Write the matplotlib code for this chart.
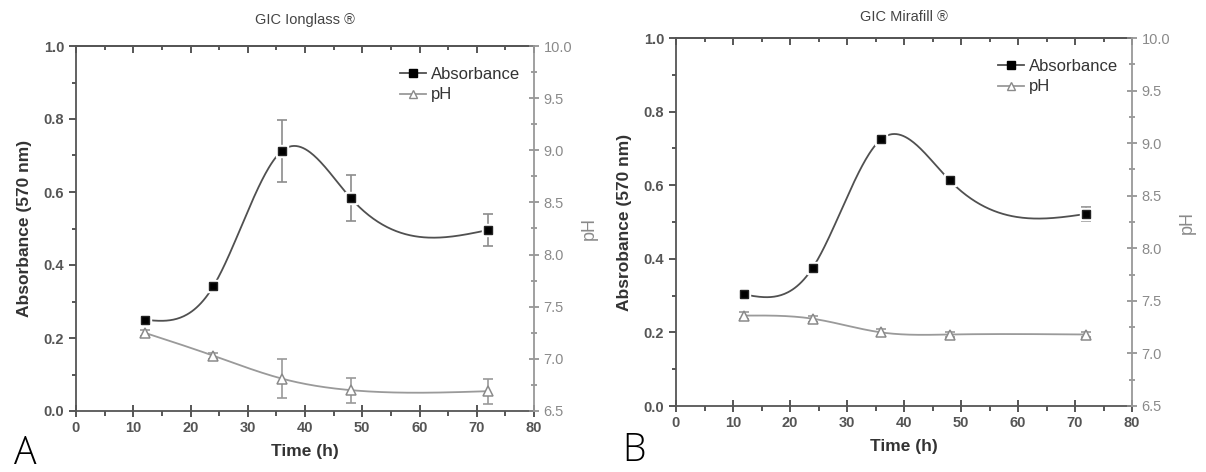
import numpy as np
import matplotlib
matplotlib.use("Agg")
import matplotlib.pyplot as plt
from matplotlib.lines import Line2D

plt.rcParams['font.family'] = ['Liberation Sans', 'DejaVu Sans']

time_h = [12, 24, 36, 48, 72]

abs_A = [0.250, 0.342, 0.713, 0.583, 0.496]
abs_A_err = [0.008, 0.008, 0.085, 0.063, 0.043]
ph_A = [7.25, 7.03, 6.81, 6.70, 6.69]
ph_A_err = [0.03, 0.03, 0.19, 0.12, 0.12]

abs_B = [0.303, 0.376, 0.725, 0.613, 0.522]
abs_B_err = [0.008, 0.012, 0.010, 0.008, 0.020]
ph_B = [7.36, 7.33, 7.20, 7.18, 7.18]
ph_B_err = [0.03, 0.03, 0.03, 0.02, 0.02]

titles = ["GIC Ionglass \u00ae", "GIC Mirafill \u00ae"]
ylabels = ["Absorbance (570 nm)", "Absrobance (570 nm)"]
panel_letters = ["A", "B"]


def natural_spline(x, y, n=300):
    x = np.asarray(x, float); y = np.asarray(y, float)
    k = len(x); h = np.diff(x)
    A = np.zeros((k, k)); r = np.zeros(k)
    A[0, 0] = 1; A[-1, -1] = 1
    for i in range(1, k - 1):
        A[i, i - 1] = h[i - 1]; A[i, i] = 2 * (h[i - 1] + h[i]); A[i, i + 1] = h[i]
        r[i] = 3 * ((y[i + 1] - y[i]) / h[i] - (y[i] - y[i - 1]) / h[i - 1])
    c = np.linalg.solve(A, r)
    b = np.zeros(k - 1); d = np.zeros(k - 1)
    for i in range(k - 1):
        b[i] = (y[i + 1] - y[i]) / h[i] - h[i] * (2 * c[i] + c[i + 1]) / 3
        d[i] = (c[i + 1] - c[i]) / (3 * h[i])
    xs = np.linspace(x[0], x[-1], n)
    idx = np.clip(np.searchsorted(x, xs) - 1, 0, k - 2)
    dx = xs - x[idx]
    ys = y[idx] + b[idx] * dx + c[idx] * dx ** 2 + d[idx] * dx ** 3
    return xs, ys


fig = plt.figure(figsize=(12.06, 4.72), dpi=100)
W, H = 1206, 472
boxes = [(76, 46, 534, 411), (676, 38, 1132, 406)]
title_pads = [16, 12]
dark = '#3a3a3a'
grey = '#8c8c8c'

data = [(abs_A, abs_A_err, ph_A, ph_A_err), (abs_B, abs_B_err, ph_B, ph_B_err)]

for p, (l, t, r, b) in enumerate(boxes):
    ax = fig.add_axes([l / W, 1 - b / H, (r - l) / W, (b - t) / H])
    ax2 = ax.twinx()
    a, ae, ph, phe = data[p]

    xs, ys = natural_spline(time_h, a)
    ax.plot(xs, ys, color='#505050', lw=1.3, zorder=2)
    ax.errorbar(time_h, a, yerr=ae, fmt='none', ecolor=grey, elinewidth=1.2,
                capsize=3.5, capthick=1.2, zorder=3)
    ax.plot(time_h, a, 's', ms=8.5, mfc='white', mec='white', zorder=4)
    ax.plot(time_h, a, 's', ms=5.5, mfc='black', mec='#222222', zorder=5)

    xs2, ys2 = natural_spline(time_h, ph)
    ax2.plot(xs2, ys2, color='#9a9a9a', lw=1.3, zorder=2)
    ax2.errorbar(time_h, ph, yerr=phe, fmt='none', ecolor='#9a9a9a', elinewidth=1.2,
                 capsize=3.5, capthick=1.2, zorder=3)
    ax2.plot(time_h, ph, '^', ms=6.5, mfc='white', mec='#8a8a8a', mew=1.1, zorder=5)

    ax.set_xlim(0, 80)
    ax.set_ylim(0, 1.0)
    ax2.set_ylim(6.5, 10.0)
    ax.set_xticks(np.arange(0, 81, 10))
    ax.set_xticks(np.arange(0, 81, 5), minor=True)
    ax.set_yticks(np.arange(0, 1.01, 0.2))
    ax.set_yticks(np.arange(0, 1.01, 0.1), minor=True)
    ax.set_yticklabels([f"{v:.1f}" for v in np.arange(0, 1.01, 0.2)])
    ax2.set_yticks(np.arange(6.5, 10.01, 0.5))
    ax2.set_yticks(np.arange(6.5, 10.01, 0.25), minor=True)
    ax2.set_yticklabels([f"{v:.1f}" for v in np.arange(6.5, 10.01, 0.5)])

    ax.tick_params(axis='x', which='both', colors=dark, labelsize=10.5, width=1.2)
    ax.tick_params(axis='x', which='major', direction='inout', length=8)
    ax.tick_params(axis='x', which='minor', direction='out', length=3.5)
    ax.tick_params(axis='y', which='both', direction='out', colors=dark,
                   labelsize=10.5, width=1.2)
    ax.tick_params(axis='y', which='major', length=5)
    ax.tick_params(axis='y', which='minor', length=3)
    ax2.tick_params(axis='y', which='both', direction='inout', colors=grey,
                    labelsize=10.5, width=1.2)
    ax2.tick_params(axis='y', which='major', length=7)
    ax2.tick_params(axis='y', which='minor', length=5)
    for lab in ax.get_xticklabels() + ax.get_yticklabels():
        lab.set_fontweight('bold'); lab.set_color('#555555')
    for lab in ax2.get_yticklabels():
        lab.set_color('#8a8a8a')

    top = ax.secondary_xaxis('top')
    top.set_xticks(np.arange(0, 81, 10))
    top.set_xticks(np.arange(0, 81, 5), minor=True)
    top.tick_params(axis='x', which='both', direction='in', labeltop=False, colors=dark, width=1.2)
    top.tick_params(axis='x', which='major', length=5)
    top.tick_params(axis='x', which='minor', length=3)
    top.spines['top'].set_color('#555555'); top.spines['top'].set_linewidth(1.3)

    for s in ['left', 'bottom', 'top']:
        ax.spines[s].set_color('#555555'); ax.spines[s].set_linewidth(1.3)
    ax2.spines['right'].set_color('#999999'); ax2.spines['right'].set_linewidth(1.3)
    for s in ['left', 'bottom', 'top']:
        ax2.spines[s].set_visible(False)
    ax.spines['right'].set_visible(False)

    ax.set_title(titles[p], fontsize=10.5, color='#444444', pad=title_pads[p])
    ax.set_xlabel("Time (h)", fontsize=12.5, fontweight='bold', color='#333333', labelpad=6)
    ax.set_ylabel(ylabels[p], fontsize=12.5, fontweight='bold', color='#333333', labelpad=8)
    ax2.set_ylabel("pH", fontsize=13, color='#8a8a8a', labelpad=6)

    h1 = Line2D([], [], color='#505050', lw=1.3, marker='s', ms=5.5, mfc='black', mec='black')
    h2 = Line2D([], [], color='#9a9a9a', lw=1.3, marker='^', ms=6, mfc='white', mec='#8a8a8a')
    leg = ax.legend([h1, h2], ["Absorbance", "pH"], loc='upper right', frameon=False,
                    fontsize=12, handlelength=1.6, handletextpad=0.3, borderaxespad=0,
                    bbox_to_anchor=(0.985, 0.962), labelspacing=0.35)
    for txt in leg.get_texts():
        txt.set_color('#333333')

    fig.text([14, 622][p] / W, 1 - [464, 461][p] / H, panel_letters[p], fontsize=27,
             family=['Open Sans', 'DejaVu Sans'], fontweight='light',
             color='black', va='baseline', ha='left')

fig.savefig("out.png", dpi=100)
